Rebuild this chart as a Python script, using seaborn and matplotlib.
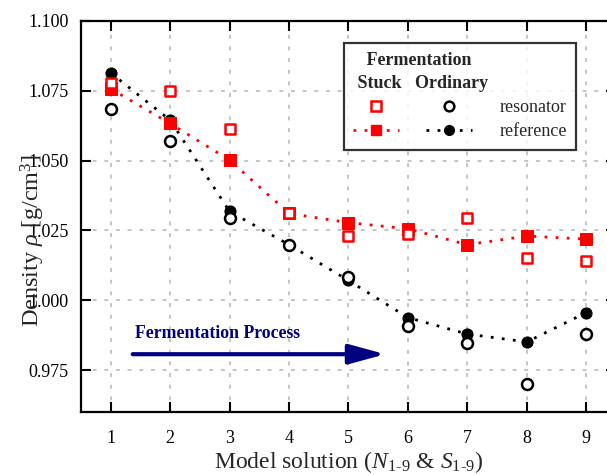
import numpy as np
import pandas as pd
import seaborn as sns
import matplotlib.pyplot as plt
from matplotlib.lines import Line2D
from matplotlib.legend_handler import HandlerTuple

# Model solutions N1-9 / S1-9
solution = [1, 2, 3, 4, 5, 6, 7, 8, 9]

# Density [g/cm^3], stuck fermentation
stuck_resonator = [1.0777, 1.0748, 1.0613, 1.0311, 1.0229, 1.0238, 1.0293, 1.0152, 1.0139]
stuck_reference = [1.0757, 1.0633, 1.0502, 1.0311, 1.0278, 1.0256, 1.0199, 1.0230, 1.0219]

# Density [g/cm^3], ordinary fermentation
ordinary_resonator = [1.0686, 1.0571, 1.0295, 1.0199, 1.0083, 0.9907, 0.9848, 0.9702, 0.9879]
ordinary_reference = [1.0814, 1.0645, 1.0318, 1.0199, 1.0071, 0.9938, 0.9879, 0.9851, 0.9956]

y_ticks = [0.975, 1.000, 1.025, 1.050, 1.075, 1.100]

sns.set_style("ticks")
plt.rcParams["font.family"] = ["Liberation Serif", "DejaVu Serif"]
plt.rcParams["mathtext.fontset"] = "custom"
plt.rcParams["mathtext.rm"] = "Liberation Serif"
plt.rcParams["mathtext.it"] = "Liberation Serif:italic"
plt.rcParams["mathtext.bf"] = "Liberation Serif:bold"

df = pd.DataFrame({
    "solution": solution,
    "stuck_res": stuck_resonator,
    "stuck_ref": stuck_reference,
    "ord_res": ordinary_resonator,
    "ord_ref": ordinary_reference,
})

RED = "#ff0000"
BLACK = "#000000"
NAVY = "#000080"

fig = plt.figure(figsize=(6.07, 4.75), dpi=100)
ax = fig.add_axes([0.1334, 0.1326, 0.8814, 0.8232])

dotted = (0, (1.0, 3.0))
# reference curves
sns.lineplot(data=df, x="solution", y="ord_ref", ax=ax, color=BLACK,
             linestyle=dotted, linewidth=2.0, marker="o", markersize=8,
             markeredgecolor=BLACK, markerfacecolor=BLACK, zorder=3)
sns.lineplot(data=df, x="solution", y="stuck_ref", ax=ax, color=RED,
             linestyle=dotted, linewidth=2.0, marker="s", markersize=8,
             markeredgecolor=RED, markerfacecolor=RED, zorder=4)
# resonator measurements
sns.scatterplot(data=df, x="solution", y="ord_res", ax=ax, marker="o", s=62,
                facecolor="white", edgecolor=BLACK, linewidth=1.8, zorder=5)
sns.scatterplot(data=df, x="solution", y="stuck_res", ax=ax, marker="s", s=62,
                facecolor="white", edgecolor=RED, linewidth=1.8, zorder=6)

ax.set_xlim(0.5, 9.5)
ax.set_ylim(0.960, 1.100)
ax.set_xticks(solution)
ax.set_yticks(y_ticks)
ax.set_yticklabels([f"{v:.3f}" for v in y_ticks])
ax.grid(True, color="#c4c4c4", linestyle=(0, (2.0, 4.0)), linewidth=1.4, zorder=0)
ax.set_axisbelow(True)

ax.tick_params(direction="in", length=7, width=1.5, labelsize=13,
               top=True, right=True, colors=BLACK)
ax.tick_params(axis="x", pad=13)
ax.tick_params(axis="y", pad=9)
for s in ax.spines.values():
    s.set_linewidth(1.6)
    s.set_color(BLACK)

ax.set_xlabel(r"Model solution ($N_{1\text{-}9}$ & $S_{1\text{-}9}$)", fontsize=17)
ax.set_ylabel(r"Density $\rho$ [g/cm$^3$]", fontsize=17.5)
ax.yaxis.set_label_coords(-0.063, 0.44)
ax.xaxis.set_label_coords(0.5, -0.095)

# process direction arrow
ax.annotate("", xy=(5.62, 0.9807), xytext=(1.37, 0.9807),
            arrowprops=dict(arrowstyle="-|>,head_length=2.2,head_width=0.6",
                            color=NAVY, lw=3, shrinkA=0, shrinkB=0))
ax.text(1.41, 0.9865, "Fermentation Process", color=NAVY, fontsize=12.8,
        fontweight="bold", ha="left", va="baseline")

# legend: stuck / ordinary side by side for each measurement kind
h_stuck_res = Line2D([], [], linestyle="none", marker="s", markersize=7,
                     markerfacecolor="white", markeredgecolor=RED, markeredgewidth=1.8)
h_ord_res = Line2D([], [], linestyle="none", marker="o", markersize=7,
                   markerfacecolor="white", markeredgecolor=BLACK, markeredgewidth=1.8)
h_stuck_ref = Line2D([], [], color=RED, linestyle=dotted, linewidth=2.0, marker="s",
                     markersize=7, markerfacecolor=RED, markeredgecolor=RED)
h_ord_ref = Line2D([], [], color=BLACK, linestyle=dotted, linewidth=2.0, marker="o",
                   markersize=7, markerfacecolor=BLACK, markeredgecolor=BLACK)

leg = ax.legend(handles=[(h_stuck_res, h_ord_res), (h_stuck_ref, h_ord_ref)],
                labels=["resonator", "reference"],
                handler_map={tuple: HandlerTuple(ndivide=None, pad=1.5)},
                handlelength=6.6, numpoints=1, fontsize=13,
                title="   Fermentation\n" + " Stuck   Ordinary", loc="upper right",
                bbox_to_anchor=(0.925, 0.945), frameon=True, fancybox=False,
                borderpad=0.5, labelspacing=0.4, handletextpad=1.5,
                borderaxespad=0.0)
leg.get_frame().set_edgecolor(BLACK)
leg.get_frame().set_linewidth(1.6)
title = leg.get_title()
title.set_fontweight("bold")
title.set_fontsize(13)
title.set_linespacing(1.5)
title.set_ha("left")
leg._legend_box.align = "left"

fig.savefig("out.png", dpi=100)
